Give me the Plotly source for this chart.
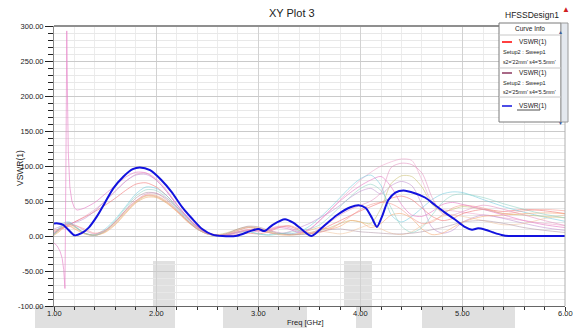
import plotly.graph_objects as go

# ---------------- data ----------------
# bold sweep (third curve in the Curve Info list)
freq_main = [1.00, 1.04, 1.09, 1.14, 1.20, 1.27, 1.34, 1.42, 1.50, 1.58, 1.68, 1.77,
             1.84, 1.94, 2.05, 2.15, 2.25, 2.35, 2.45, 2.55, 2.65, 2.79, 2.92, 3.00,
             3.06, 3.14, 3.26, 3.34, 3.42, 3.52, 3.63, 3.77, 3.90, 3.98, 4.05, 4.11,
             4.16, 4.21, 4.27, 4.34, 4.42, 4.53, 4.63, 4.73, 4.83, 4.92, 5.02, 5.09,
             5.15, 5.22, 5.30, 5.38, 5.45, 5.60, 5.80, 6.00]
vswr_main = [18, 18, 16, 9, 1, 4, 12, 28, 48, 68, 85, 95.5,
             98, 94, 80, 63, 42, 25, 10, 2, 0, 0.5, 7, 10,
             7, 16, 24, 19, 10, 0, 13, 30, 41, 44, 40, 26,
             13, 28, 51, 62, 65, 61, 55, 44, 33, 24, 13, 9,
             11, 9, 5, 1.5, 0, 0, 0, 0]

# resonant sweep with the pole near 1.1 GHz
freq_pole = [1.0, 1.03, 1.06, 1.08, 1.095, 1.107, 1.117, 1.125, 1.132, 1.14,
             1.155, 1.175, 1.2, 1.225, 1.26, 1.3]
vswr_pole = [-10, -14, -22, -32, -48, -75, 110, 293, 200, 120,
             70, 50, 40, 37, 38, 40]

# common frequency grid of the remaining parametric sweeps
freq_grid = [1.0, 1.05, 1.1, 1.15, 1.2, 1.3, 1.4, 1.5, 1.6, 1.7, 1.8, 1.9, 2.0,
             2.1, 2.2, 2.3, 2.4, 2.5, 2.6, 2.7, 2.8, 2.9, 3.0, 3.1, 3.2, 3.3,
             3.4, 3.5, 3.6, 3.7, 3.8, 3.9, 4.0, 4.1, 4.2, 4.3, 4.4, 4.5, 4.6,
             4.7, 4.8, 4.9, 5.0, 5.2, 5.4, 5.6, 5.8, 6.0]

# continuation of the pole sweep from 1.3 GHz on
vswr_pole_tail = [40, 48, 60, 72, 84, 91, 90, 80, 64, 45, 28, 13, 4, 1, 2, 5, 8, 6,
                  8, 12, 10, 5, 10, 22, 36, 50, 62, 72, 80, 85, 70, 45, 30, 28,
                  35, 45, 48, 45, 38, 30, 22, 16, 12]

vswr_s_pink = [5, 8, 12, 16, 20, 28, 38, 50, 64, 78, 88, 90, 82, 66, 46, 28, 14, 5,
               1, 1, 4, 8, 10, 8, 5, 3, 4, 9, 22, 37, 52, 66, 80, 91, 100, 106,
               110, 108, 80, 48, 38, 36, 34, 30, 26, 22, 18, 15]
vswr_s_red = [8, 10, 13, 16, 20, 27, 35, 44, 54, 65, 74, 76, 70, 58, 42, 27, 14, 5,
              1, 0, 2, 4, 3, 6, 12, 14, 8, 3, 8, 15, 22, 29, 36, 42, 48, 54,
              57, 52, 40, 28, 22, 25, 32, 38, 35, 38, 36, 32]
vswr_s_cyan = [3, 12, 19, 20, 15, 4, 2, 10, 24, 42, 60, 70, 68, 58, 42, 26, 12, 4,
               1, 2, 6, 7, 3, 2, 4, 3, 6, 14, 26, 40, 55, 70, 82, 87, 72, 30,
               20, 28, 40, 52, 60, 63, 62, 52, 42, 34, 27, 21]
vswr_s_olive = [2, 8, 15, 17, 13, 4, 1, 6, 18, 34, 48, 57, 56, 48, 36, 22, 11, 4,
                2, 5, 10, 13, 11, 6, 3, 2, 3, 5, 8, 12, 18, 22, 20, 18, 40, 75,
                86, 85, 70, 45, 35, 38, 42, 38, 32, 30, 28, 26]
vswr_s_purple = [10, 13, 16, 18, 19, 25, 36, 50, 64, 78, 87, 88, 80, 64, 45, 28, 13, 4,
                 1, 3, 8, 12, 10, 5, 3, 6, 12, 18, 26, 34, 44, 55, 64, 68, 60, 72,
                 78, 72, 45, 12, 4, 8, 20, 30, 25, 18, 12, 8]
vswr_s_magenta = [4, 9, 14, 17, 16, 8, 3, 8, 20, 36, 50, 60, 61, 54, 40, 25, 12, 4,
                  1, 2, 6, 9, 8, 10, 14, 12, 6, 4, 10, 20, 30, 38, 44, 50, 62, 98,
                  104, 102, 90, 55, 32, 30, 35, 44, 38, 30, 22, 15]
vswr_s_orange = [1, 6, 12, 14, 10, 3, 1, 5, 16, 32, 47, 55, 55, 47, 35, 21, 10, 3,
                 1, 3, 8, 12, 10, 5, 2, 1, 3, 8, 12, 10, 14, 22, 20, 12, 18, 30,
                 32, 25, 10, 2, 4, 12, 20, 28, 30, 32, 33, 32]
vswr_s_peach = [2, 7, 13, 15, 11, 3, 1, 6, 17, 33, 49, 58, 58, 50, 37, 23, 11, 3,
                1, 4, 9, 13, 12, 7, 3, 2, 2, 4, 7, 5, 3, 6, 12, 16, 10, 4,
                2, 6, 15, 22, 28, 30, 28, 22, 16, 18, 25, 30]
vswr_s_mauve = [3, 10, 17, 19, 14, 4, 1, 7, 20, 37, 54, 62, 61, 52, 38, 23, 10, 3,
                1, 4, 10, 14, 13, 8, 4, 2, 2, 3, 6, 9, 10, 8, 6, 5, 4, 3,
                3, 4, 6, 9, 12, 16, 20, 22, 18, 12, 8, 5]
vswr_s_teal = [2, 9, 16, 18, 14, 4, 1, 8, 22, 40, 57, 66, 65, 55, 40, 24, 10, 3,
               1, 2, 5, 6, 3, 1, 3, 5, 8, 10, 16, 28, 42, 56, 68, 74, 65, 40,
               14, 5, 12, 30, 48, 58, 60, 55, 46, 38, 31, 26]
vswr_s_salmon = [6, 9, 12, 14, 15, 10, 4, 8, 20, 36, 50, 58, 57, 49, 36, 22, 10, 3,
                 1, 2, 6, 9, 8, 9, 13, 15, 10, 4, 5, 10, 18, 28, 38, 45, 48, 46,
                 38, 26, 18, 20, 30, 40, 44, 40, 32, 36, 38, 36]

sweeps = [vswr_s_pink, vswr_s_red, vswr_s_cyan, vswr_s_olive, vswr_s_purple,
          vswr_s_magenta, vswr_s_orange, vswr_s_peach, vswr_s_mauve,
          vswr_s_teal, vswr_s_salmon]

y_ticks = [-100, -50, 0, 50, 100, 150, 200, 250, 300]
x_ticks = [1, 2, 3, 4, 5, 6]

legend_rows = [
    ("VSWR(1)", "Setup2 : Sweep1", "s2='22mm' s4='5.5mm'"),
    ("VSWR(1)", "Setup2 : Sweep1", "s2='25mm' s4='5.5mm'"),
    ("VSWR(1)", None, None),
]

# ---------------- styling ----------------
FONT = "Liberation Sans Narrow, Arial Narrow, Liberation Sans, Arial, sans-serif"
sweep_colors = ["rgba(236,160,200,0.55)", "rgba(240,110,110,0.55)",
                "rgba(110,200,220,0.55)", "rgba(200,190,110,0.55)",
                "rgba(190,140,205,0.55)", "rgba(225,140,190,0.55)",
                "rgba(245,165,110,0.55)", "rgba(240,195,155,0.55)",
                "rgba(175,150,165,0.55)", "rgba(140,210,195,0.55)",
                "rgba(245,150,140,0.55)"]
pole_color = "rgba(230,130,200,0.65)"
main_color = "rgb(18,18,222)"
legend_colors = ["rgb(255,0,0)", "rgb(140,55,95)", main_color]

W, H = 573, 328
L, R, T, B = 54, 565, 26, 306


def px_x(p):
    return (p - L) / (R - L)


def px_y(p):
    return (B - p) / (B - T)


fig = go.Figure()

for vals, col in zip(sweeps, sweep_colors):
    fig.add_trace(go.Scatter(x=freq_grid, y=vals, mode="lines",
                             line=dict(color=col, width=1, shape="spline",
                                       smoothing=0.8),
                             hoverinfo="skip"))

fig.add_trace(go.Scatter(x=freq_pole, y=vswr_pole, mode="lines",
                         line=dict(color=pole_color, width=1), hoverinfo="skip"))
fig.add_trace(go.Scatter(x=freq_grid[5:], y=vswr_pole_tail, mode="lines",
                         line=dict(color=pole_color, width=1, shape="spline",
                                   smoothing=0.8),
                         hoverinfo="skip"))

fig.add_trace(go.Scatter(x=freq_main, y=vswr_main, mode="lines",
                         line=dict(color=main_color, width=2, shape="spline",
                                   smoothing=0.7),
                         hoverinfo="skip"))

shapes = []
annotations = []

# light grey patches around the bottom axis
for x0, x1, y0, y1 in [(35, 175, 306, 328), (153, 175, 261, 306),
                       (223, 307, 306, 328), (344, 372, 261, 306),
                       (356, 372, 306, 328), (422, 515, 306, 328)]:
    shapes.append(dict(type="rect", xref="paper", yref="paper",
                       x0=px_x(x0), x1=px_x(x1), y0=px_y(y1), y1=px_y(y0),
                       fillcolor="#e0e0e0", line=dict(width=0), layer="below"))

# frame: heavy top border, thin right border
shapes.append(dict(type="line", xref="paper", yref="paper", x0=0, x1=1, y0=1, y1=1,
                   line=dict(color="#8f8f8f", width=2)))
shapes.append(dict(type="line", xref="paper", yref="paper", x0=1, x1=1, y0=0, y1=1,
                   line=dict(color="#b0b0b0", width=1)))

# Curve Info box
bx0, bx1, by0, by1 = 499, 561, 23, 122
shapes.append(dict(type="rect", xref="paper", yref="paper",
                   x0=px_x(bx0), x1=px_x(bx1), y0=px_y(by1), y1=px_y(by0),
                   fillcolor="white", line=dict(color="#7a7a7a", width=1)))
shapes.append(dict(type="rect", xref="paper", yref="paper",
                   x0=px_x(bx1), x1=px_x(568), y0=px_y(by1), y1=px_y(by0),
                   fillcolor="#e4e8ee", line=dict(color="#9a9a9a", width=1)))
for sy in (35, 68, 97):
    shapes.append(dict(type="line", xref="paper", yref="paper",
                       x0=px_x(bx0), x1=px_x(bx1), y0=px_y(sy), y1=px_y(sy),
                       line=dict(color="#c8c8c8", width=1)))

annotations.append(dict(text="Curve Info", x=px_x(530), y=px_y(29), xref="paper",
                        yref="paper", showarrow=False, xanchor="center",
                        yanchor="middle", font=dict(size=6.5, color="#222")))
annotations.append(dict(text="▲", x=px_x(564.5), y=px_y(27), xref="paper",
                        yref="paper", showarrow=False, font=dict(size=5, color="#3a5a9a")))
annotations.append(dict(text="▼", x=px_x(564.5), y=px_y(118), xref="paper",
                        yref="paper", showarrow=False, font=dict(size=5, color="#3a5a9a")))

row_y = [(42, 52, 62), (73, 83, 92), (106, None, None)]
for (name, setup, params), col, (ya, yb, yc) in zip(legend_rows, legend_colors, row_y):
    shapes.append(dict(type="line", xref="paper", yref="paper",
                       x0=px_x(502), x1=px_x(512), y0=px_y(ya), y1=px_y(ya),
                       line=dict(color=col, width=1.5)))
    annotations.append(dict(text=name, x=px_x(517), y=px_y(ya), xref="paper",
                            yref="paper", showarrow=False, xanchor="left",
                            yanchor="middle", font=dict(size=6.5, color="#222")))
    if setup:
        annotations.append(dict(text=setup, x=px_x(500.5), y=px_y(yb), xref="paper",
                                yref="paper", showarrow=False, xanchor="left",
                                yanchor="middle", font=dict(size=5.6, color="#222")))
        annotations.append(dict(text=params, x=px_x(500.5), y=px_y(yc), xref="paper",
                                yref="paper", showarrow=False, xanchor="left",
                                yanchor="middle", font=dict(size=5.2, color="#222")))
    else:
        shapes.append(dict(type="line", xref="paper", yref="paper",
                           x0=px_x(517), x1=px_x(540), y0=px_y(ya + 4),
                           y1=px_y(ya + 4), line=dict(color="#222", width=0.8)))

# frequency tick labels, placed on the x axis scale
for v in x_ticks:
    annotations.append(dict(text=f"{v:.2f}", x=v, xref="x", y=px_y(313),
                            yref="paper", showarrow=False, xanchor="center",
                            yanchor="middle", font=dict(size=7.5, color="#222")))

# titles
annotations.append(dict(text="XY Plot 3", x=px_x(292), y=px_y(13), xref="paper",
                        yref="paper", showarrow=False, xanchor="center",
                        yanchor="middle", font=dict(size=11, color="#222")))
annotations.append(dict(text="HFSSDesign1", x=px_x(532), y=px_y(15), xref="paper",
                        yref="paper", showarrow=False, xanchor="center",
                        yanchor="middle", font=dict(size=8.5, color="#222")))
annotations.append(dict(text="▲", x=px_x(566), y=px_y(10), xref="paper",
                        yref="paper", showarrow=False, xanchor="center",
                        yanchor="middle", font=dict(size=8, color="#d02020")))
annotations.append(dict(text="VSWR(1)", x=px_x(20), y=px_y(168), xref="paper",
                        yref="paper", showarrow=False, textangle=-90,
                        xanchor="center", yanchor="middle",
                        font=dict(size=8.5, color="#222")))
annotations.append(dict(text="Freq [GHz]", x=px_x(305), y=px_y(322), xref="paper",
                        yref="paper", showarrow=False, xanchor="center",
                        yanchor="middle", font=dict(size=7.5, color="#222")))

fig.update_layout(
    width=W, height=H,
    margin=dict(l=L, r=W - R, t=T, b=H - B, pad=0),
    paper_bgcolor="white", plot_bgcolor="white",
    showlegend=False,
    font=dict(family=FONT, size=8, color="#222"),
    shapes=shapes, annotations=annotations,
    xaxis=dict(range=[1, 6], tickmode="array", tickvals=x_ticks,
               showticklabels=False,
               ticks="outside", ticklen=4, tickcolor="#333", tickwidth=1,
               showgrid=True, gridcolor="#d2d2d2", gridwidth=1,
               showline=True, linecolor="#666", linewidth=1,
               zeroline=False,
               minor=dict(dtick=0.2, tick0=1, ticks="outside", ticklen=3,
                          tickcolor="#333", showgrid=True, gridcolor="#ececec")),
    yaxis=dict(range=[-100, 300], tickmode="array", tickvals=y_ticks,
               ticktext=[f"{v:.2f}" for v in y_ticks],
               ticks="outside", ticklen=8, tickcolor="#222", tickwidth=1,
               showgrid=True, gridcolor="#cacaca", gridwidth=1,
               showline=True, linecolor="#888", linewidth=1,
               zeroline=False, tickfont=dict(size=7.5),
               minor=dict(dtick=10, tick0=0, ticks="outside", ticklen=5,
                          tickcolor="#222", showgrid=True, gridcolor="#e8e8e8")),
)

fig.write_html("out.html")
